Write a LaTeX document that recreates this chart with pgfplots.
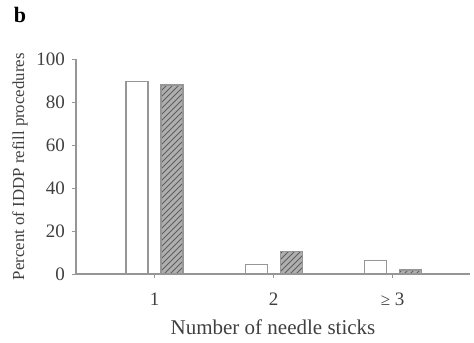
\documentclass[border=0pt]{standalone}
\usepackage{pgfplots}
\pgfplotsset{compat=1.18}
\usepackage{fontspec}
\setmainfont{Liberation Serif}
\usetikzlibrary{patterns}
\definecolor{axgray}{RGB}{150,150,150}
\definecolor{barfill}{RGB}{175,175,175}
\definecolor{hatch}{RGB}{95,95,95}
\begin{document}
\begin{tikzpicture}
\useasboundingbox (-38pt,-34pt) rectangle (199pt,137pt);
\begin{axis}[
  at={(0,0)}, anchor=south west,
  scale only axis, width=197pt, height=107.35pt,
  xmin=0.34, xmax=3.65, ymin=0, ymax=100,
  axis x line*=bottom, axis y line*=left,
  axis line style={axgray, line width=0.6pt},
  every tick/.style={axgray, line width=0.5pt},
  tick align=outside, major tick length=2pt,
  xtick={1,2,3}, xticklabels={1,2,{\fontsize{8.5}{9}\selectfont ≥} 3},
  ytick={0,20,40,60,80,100},
  tick label style={font=\fontsize{9.5}{10}\selectfont, text=black!75},
  /pgf/number format/assume math mode=true,
  xticklabel style={yshift=-4pt},
  ylabel={Percent of IDDP refill procedures},
  ylabel style={font=\fontsize{8.4}{9}\selectfont, text=black!75, at={(axis description cs:-0.142,0.5)}, anchor=center},
  xlabel={Number of needle sticks},
  xlabel style={font=\fontsize{10.5}{11}\selectfont, text=black!75},
  clip=false,
  ybar, bar width=11pt,
]
\addplot[draw=axgray, fill=white, line width=0.6pt, bar shift=-8.75pt]
  coordinates {(1,89.7) (2,4.5) (3,6.2)};
\addplot[draw=axgray, line width=0.6pt, fill=barfill, bar shift=8.75pt,
  postaction={pattern=north east lines, pattern color=hatch}]
  coordinates {(1,88.0) (2,10.4) (3,1.9)};
\end{axis}
\node[font=\bfseries\fontsize{11}{12}\selectfont] at (-28pt,129.5pt) {b};
\end{tikzpicture}
\end{document}
